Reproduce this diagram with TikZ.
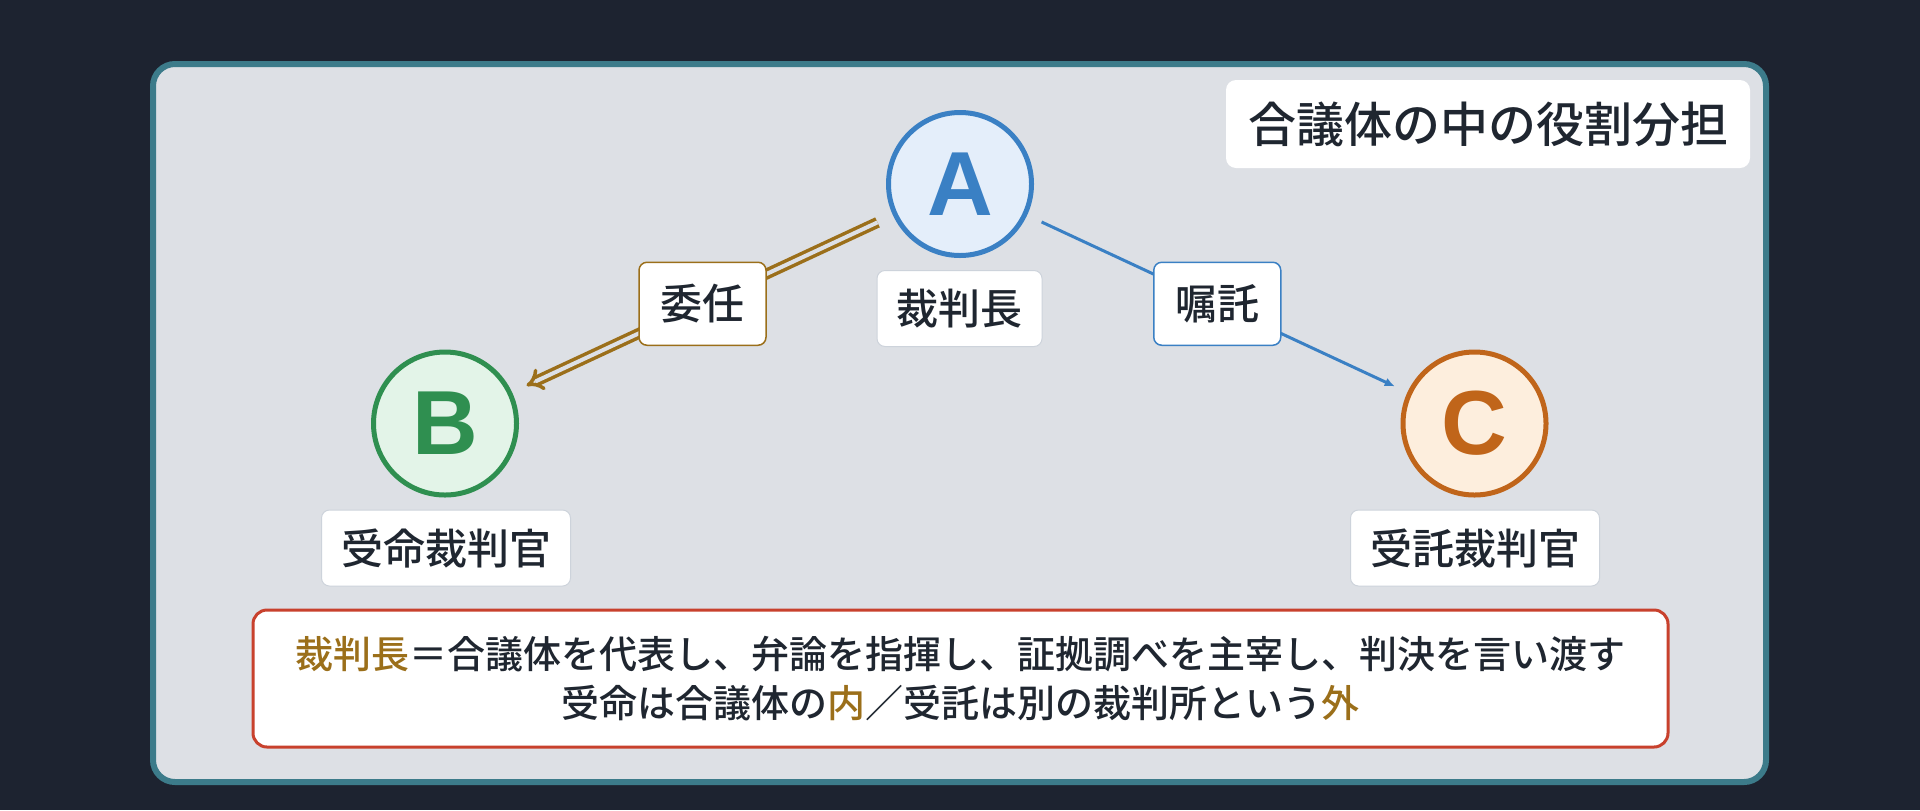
\documentclass[tikz,border=0pt]{standalone}
\usepackage{fontspec}
\setmainfont{Noto Sans CJK JP}[UprightFont={* Medium}]
\newfontfamily\letterfont{Liberation Sans}
\usetikzlibrary{calc,arrows.meta}

\definecolor{bgdark}{HTML}{1D2330}
\definecolor{framefill}{HTML}{DDE0E5}
\definecolor{frameline}{HTML}{3C7B8A}
\definecolor{ink}{HTML}{1F2630}
\definecolor{boxgray}{HTML}{CDD3DB}
\definecolor{blu}{HTML}{3A80C4}
\definecolor{grn}{HTML}{2F8F50}
\definecolor{org}{HTML}{C0651A}
\definecolor{blufill}{HTML}{E4EEFA}
\definecolor{grnfill}{HTML}{E3F4E8}
\definecolor{orgfill}{HTML}{FDEEDD}
\definecolor{brn}{HTML}{9B6F1A}
\definecolor{notered}{HTML}{C8412D}

\def\lab{\fontsize{21}{21}\selectfont}

\tikzset{
  judge/.style={circle, line width=2.5pt, minimum size=71.5pt, inner sep=0pt, font=\fontsize{45.5}{45.5}\selectfont\letterfont\bfseries},
  namebox/.style={rectangle, rounded corners=4pt, fill=white, draw=boxgray, line width=0.5pt, text=ink, font=\lab, inner xsep=9.75pt, inner ysep=0pt, minimum height=38pt},
  edgebox/.style={rectangle, rounded corners=4pt, fill=white, line width=0.75pt, text=ink, font=\lab, minimum width=63.5pt, minimum height=41.5pt, inner sep=0pt},
  deleg/.style={brn, line width=1.75pt, double=framefill, double distance=2pt, -{Implies}, shorten <=8.5pt, shorten >=8pt},
  commis/.style={blu, line width=1.5pt, -{Latex[length=5pt,width=4.5pt]}, shorten <=8pt, shorten >=7pt},
}

\begin{document}
\begin{tikzpicture}[x=0.5pt, y=-0.5pt]
% canvas and panel
\useasboundingbox (0,0) rectangle (1920,810);
\fill[bgdark] (0,0) rectangle (1920,810);
\draw[line width=3pt, draw=frameline, fill=framefill, rounded corners=11pt] (153,64) rectangle (1766,782);

% title
\node[rectangle, rounded corners=5pt, fill=white, text=ink, font=\fontsize{24}{24}\selectfont, inner xsep=11pt, inner ysep=0pt, minimum height=44pt] (title) at (1488,124) {合議体の中の役割分担};

% the three judges
\foreach\n/\x/\y/\c/\f in {A/960/184/blu/blufill, B/445/423.5/grn/grnfill, C/1474.5/423.5/org/orgfill}
  {
  \node[judge, draw=\c, fill=\f, text=\c] (\n) at (\x,\y) {\n};
  }

% role names
\node[namebox] (head) at (959.5,308.5) {裁判長};
\node[namebox] (commissioned) at (446,548) {受命裁判官};
\node[namebox] (entrusted) at (1475,548) {受託裁判官};

% delegation (inside the panel) and request (to another court)
\draw[deleg] (A) -- (B);
\draw[commis] (A) -- (C);
\node[edgebox, draw=brn] (inin) at ($(A)!.5!(B)$) {委任};
\node[edgebox, draw=blu] (shokutaku) at ($(A)!.5!(C)$) {嘱託};

% summary
\node[rectangle, rounded corners=7pt, fill=white, draw=notered, line width=1.5pt, text=ink, align=center, font=\fontsize{19}{24.5}\selectfont, minimum width=707.5pt, minimum height=68.5pt] (note) at (960.5,678.5)
  {\textcolor{brn}{裁判長}＝合議体を代表し、弁論を指揮し、証拠調べを主宰し、判決を言い渡す\\
   受命は合議体の\textcolor{brn}{内}／受託は別の裁判所という\textcolor{brn}{外}};
\end{tikzpicture}
\end{document}
